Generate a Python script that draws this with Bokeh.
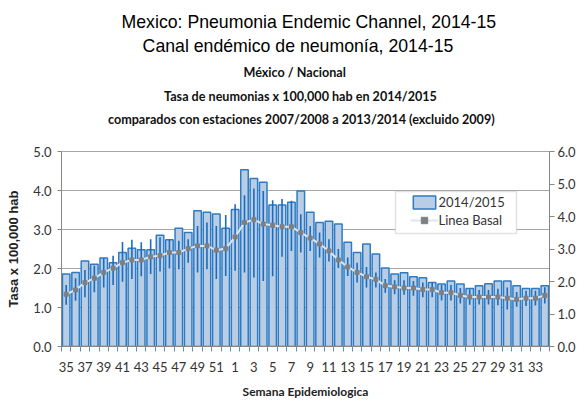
from bokeh.plotting import figure
from bokeh.layouts import column
from bokeh.models import (Range1d, LinearAxis, FixedTicker, NumeralTickFormatter,
                          Legend, LegendItem, BoxAnnotation, ColumnDataSource)
from bokeh.core.properties import value
from bokeh.embed import file_html
from bokeh.resources import INLINE

# ---------------- data ----------------
weeks = [35, 36, 37, 38, 39, 40, 41, 42, 43, 44, 45, 46, 47, 48, 49, 50, 51, 52,
         1, 2, 3, 4, 5, 6, 7, 8, 9, 10, 11, 12, 13, 14, 15, 16, 17, 18, 19, 20,
         21, 22, 23, 24, 25, 26, 27, 28, 29, 30, 31, 32, 33, 34]

rate_2014_15 = [1.86, 1.90, 2.19, 2.11, 2.27, 2.15, 2.41, 2.52, 2.48, 2.48, 2.85, 2.74,
                3.03, 2.92, 3.48, 3.44, 3.40, 3.03, 3.51, 4.53, 4.31, 4.21, 3.63, 3.63,
                3.70, 3.99, 3.44, 3.18, 3.21, 3.14, 2.67, 2.41, 2.63, 2.37, 2.01, 1.86,
                1.89, 1.79, 1.76, 1.64, 1.60, 1.68, 1.60, 1.49, 1.56, 1.61, 1.68, 1.68,
                1.56, 1.49, 1.49, 1.56]

linea_basal = [1.34, 1.45, 1.64, 1.75, 1.90, 2.01, 2.15, 2.22, 2.22, 2.30, 2.33, 2.41,
               2.41, 2.51, 2.58, 2.58, 2.47, 2.51, 2.81, 3.18, 3.25, 3.14, 3.11, 3.07,
               3.07, 2.92, 2.78, 2.63, 2.45, 2.22, 2.04, 1.90, 1.79, 1.72, 1.56, 1.53,
               1.50, 1.50, 1.46, 1.46, 1.38, 1.38, 1.31, 1.27, 1.27, 1.27, 1.27, 1.24,
               1.21, 1.24, 1.24, 1.31]

basal_high = [1.58, 1.75, 1.96, 2.07, 2.27, 2.33, 2.68, 2.74, 2.67, 2.75, 2.80, 2.74,
              2.71, 2.75, 3.09, 3.18, 3.09, 3.37, 3.65, 3.88, 4.05, 3.99, 3.75, 3.78,
              3.74, 3.39, 3.09, 2.92, 2.75, 2.50, 2.28, 2.15, 2.04, 1.90, 1.73, 1.70,
              1.70, 1.68, 1.64, 1.64, 1.58, 1.58, 1.50, 1.47, 1.45, 1.45, 1.48, 1.51,
              1.40, 1.43, 1.43, 1.52]

basal_low = [1.07, 1.17, 1.26, 1.39, 1.51, 1.58, 1.66, 1.73, 1.80, 1.86, 1.92, 2.00,
             1.98, 2.15, 1.90, 1.98, 1.73, 1.81, 1.94, 1.90, 1.77, 1.68, 1.80, 2.30,
             2.45, 2.41, 2.45, 2.28, 2.18, 2.01, 1.81, 1.64, 1.51, 1.51, 1.38, 1.34,
             1.33, 1.30, 1.26, 1.26, 1.18, 1.18, 1.10, 1.07, 1.08, 1.08, 1.06, 0.95,
             1.02, 1.04, 1.05, 1.10]

left_ticks = [0, 1, 2, 3, 4, 5]
right_ticks = [0, 1, 2, 3, 4, 5, 6]

title_lines = ["Mexico: Pneumonia Endemic Channel, 2014-15",
               "Canal endémico de neumonía, 2014-15"]
subtitle_lines = ["México / Nacional",
                  "Tasa de neumonias x 100,000 hab en 2014/2015",
                  "comparados con estaciones 2007/2008 a 2013/2014 (excluido 2009)"]

# ---------------- layout ----------------
TOTAL_W = 584
HEAD_H = 141
FRAME_W, FRAME_H = 488, 195
B_LEFT, B_TOP = 61, 10
B_RIGHT = TOTAL_W - B_LEFT - FRAME_W
B_BOTTOM = 54
N = len(weeks)
idx = list(range(1, N + 1))
Y_MAX = 5.0
PX_X = FRAME_W / N
PX_Y = FRAME_H / Y_MAX


def dx(px_from_left):
    return 0.5 + px_from_left / PX_X


def dy(px_from_top):
    return Y_MAX - px_from_top / PX_Y


# ---------------- header (titles) ----------------
head = figure(width=TOTAL_W, height=HEAD_H, x_range=Range1d(0, TOTAL_W),
              y_range=Range1d(HEAD_H, 0), min_border=0, title=None,
              output_backend="svg", toolbar_location=None, tools="")
head.axis.visible = False
head.grid.visible = False
head.outline_line_color = None
head.background_fill_color = "white"
head.border_fill_color = "white"

head.text(x=[296, 283], y=[21.5, 45.5], text=title_lines,
          text_font=value("Liberation Sans"), text_font_size="17.7px",
          text_align="center", text_baseline="alphabetic", text_color="#000000")
head.text(x=[279, 286, 287], y=[72, 95.5, 118.5], text=subtitle_lines,
          text_font=value("Lato"), text_font_style="bold", text_font_size="12.6px",
          text_align="center", text_baseline="alphabetic", text_color="#111111")

# ---------------- chart ----------------
src = ColumnDataSource(dict(x=idx, rate=rate_2014_15, base=linea_basal,
                            hi=basal_high, lo=basal_low))

p = figure(frame_width=FRAME_W, frame_height=FRAME_H,
           min_border_left=B_LEFT, min_border_top=B_TOP,
           min_border_right=B_RIGHT, min_border_bottom=B_BOTTOM,
           x_range=Range1d(0.5, N + 0.5), y_range=Range1d(0, Y_MAX),
           output_backend="svg", toolbar_location=None, tools="")
p.background_fill_color = "white"
p.border_fill_color = "white"
p.outline_line_color = "#a6a6a6"
p.outline_line_width = 1

p.xgrid.visible = False
p.ygrid.grid_line_color = "#a6a6a6"
p.ygrid.grid_line_width = 1

xa = p.xaxis[0]
xa.ticker = FixedTicker(ticks=[i for i in idx if i % 2 == 1],
                        minor_ticks=[k + 0.5 for k in range(0, N + 1)])
xa.major_label_overrides = {i: str(w) for i, w in zip(idx, weeks)}
xa.major_tick_out = 0
xa.major_tick_in = 0
xa.minor_tick_out = 5
xa.minor_tick_in = 0
xa.minor_tick_line_color = "#868686"
xa.axis_line_color = "#868686"
xa.major_label_standoff = 10
xa.major_label_text_font = "Lato"
xa.major_label_text_font_size = "13px"
xa.major_label_text_color = "#333333"
xa.axis_label = "Semana Epidemiologica"
xa.axis_label_text_font = "Lato"
xa.axis_label_text_font_style = "bold"
xa.axis_label_text_font_size = "12px"
xa.axis_label_text_color = "#222222"
xa.axis_label_standoff = 9

ya = p.yaxis[0]
ya.ticker = FixedTicker(ticks=left_ticks)
ya.formatter = NumeralTickFormatter(format="0.0")
ya.major_tick_out = 4
ya.major_tick_in = 0
ya.minor_tick_line_color = None
ya.axis_line_color = "#868686"
ya.major_tick_line_color = "#868686"
ya.major_label_standoff = 6
ya.major_label_text_font = "Lato"
ya.major_label_text_font_size = "13px"
ya.major_label_text_color = "#333333"
ya.axis_label = "Tasa x 100,000 hab"
ya.axis_label_text_font = "Liberation Sans"
ya.axis_label_text_font_style = "bold"
ya.axis_label_text_font_size = "13px"
ya.axis_label_text_color = "#222222"
ya.axis_label_standoff = 9

p.extra_y_ranges = {"right": Range1d(0, 6)}
ra = LinearAxis(y_range_name="right", ticker=FixedTicker(ticks=right_ticks),
                formatter=NumeralTickFormatter(format="0.0"))
ra.major_tick_out = 5
ra.major_tick_in = 0
ra.minor_tick_line_color = None
ra.axis_line_color = "#868686"
ra.major_tick_line_color = "#868686"
ra.major_label_standoff = 3
ra.major_label_text_font = "Lato"
ra.major_label_text_font_size = "13px"
ra.major_label_text_color = "#333333"
p.add_layout(ra, "right")

bars = p.vbar(x="x", top="rate", width=0.8, source=src,
              fill_color="#b9cde5", line_color="#2e7bc4", line_width=1.5)
p.segment(x0="x", y0="lo", x1="x", y1="hi", source=src,
          line_color="#1a6cc0", line_width=1.6)
bl_line = p.line(x="x", y="base", source=src, line_color="#dde5f0", line_width=2)
bl_pts = p.scatter(x="x", y="base", source=src, marker="square", size=4,
                   fill_color="#7f7f7f", line_color="#7f7f7f")

# legend box + legend
p.add_layout(BoxAnnotation(left=dx(334), right=dx(455), top=dy(40), bottom=dy(82),
                           fill_color="white", fill_alpha=1.0,
                           line_color="#a0a0a0", line_width=1.5))
legend = Legend(items=[LegendItem(label="2014/2015", renderers=[bars]),
                       LegendItem(label="Linea Basal", renderers=[bl_line, bl_pts])],
                location=(348.5, 117.7), padding=0, margin=0, spacing=2,
                glyph_width=28, glyph_height=16, label_height=16, label_standoff=1,
                label_text_font="Lato", label_text_font_size="13px",
                label_text_color="#333333",
                border_line_alpha=0, background_fill_alpha=0)
p.add_layout(legend)

layout = column(head, p, spacing=0)

with open("out.html", "w") as f:
    f.write(file_html(layout, INLINE))
